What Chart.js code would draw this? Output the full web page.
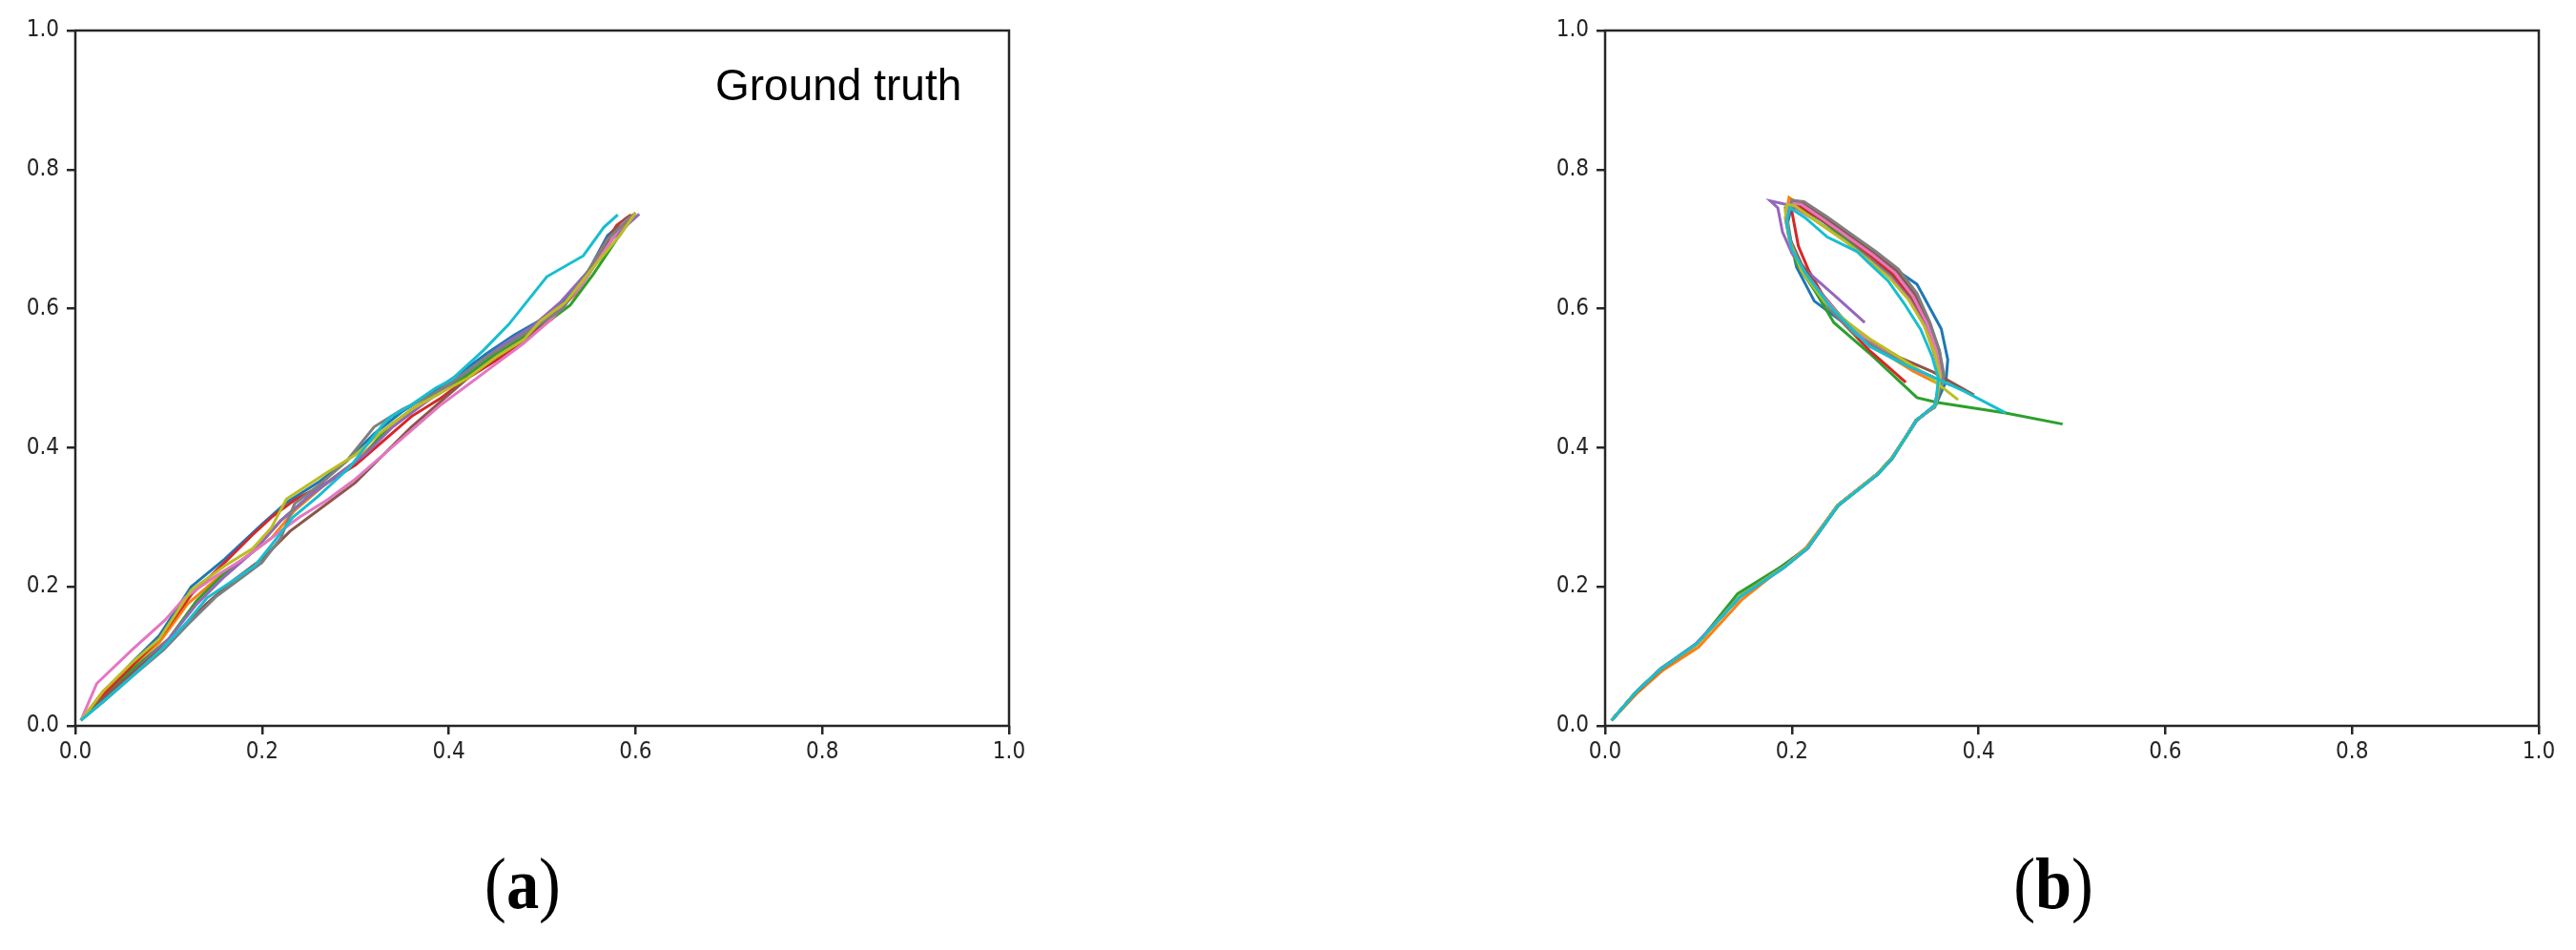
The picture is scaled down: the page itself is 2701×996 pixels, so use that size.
<!DOCTYPE html>
<html><head><meta charset="utf-8">
<script src="https://cdn.jsdelivr.net/npm/chart.js@4.4.1/dist/chart.umd.min.js"></script>
<style>
html,body{margin:0;padding:0;background:#fff;width:2701px;height:996px;overflow:hidden;}
.wrap{position:absolute;top:0;width:1100px;height:830px;}
#wa{left:0}
#wb{left:1604px}
.lbl{position:absolute;white-space:nowrap;line-height:1;color:#000;}
#gt{left:750px;top:66px;font-family:"Liberation Sans",Arial,sans-serif;font-size:46px;}
.cap{font-family:"Liberation Serif","Times New Roman",serif;font-size:76px;top:888px;transform:translateX(-50%) scaleX(0.9);}
.cap b{font-weight:bold}
</style></head>
<body>
<div class="wrap" id="wa"><canvas id="ca" width="1100" height="830"></canvas></div>
<div class="wrap" id="wb"><canvas id="cb" width="1100" height="830"></canvas></div>
<div class="lbl" id="gt">Ground truth</div>
<div class="lbl cap" style="left:548px">(<b>a</b>)</div>
<div class="lbl cap" style="left:2153px">(<b>b</b>)</div>
<script>
// ---- tick values / labels ----
const tickValues = [0, 0.2, 0.4, 0.6, 0.8, 1.0];
const tickLabels = ['0.0', '0.2', '0.4', '0.6', '0.8', '1.0'];
const seriesNames = ['blue','orange','green','red','purple','brown','pink','gray','olive','cyan'];
const seriesColors = ['#1f77b4','#ff7f0e','#2ca02c','#d62728','#9467bd','#8c564b','#e377c2','#7f7f7f','#bcbd22','#17becf'];

// ---- (a) Ground truth trajectories [x, y] ----
const gtBlue = [[0.006,0.008],[0.03,0.045],[0.06,0.09],[0.09,0.13],[0.124,0.2],[0.16,0.24],[0.2,0.29],[0.226,0.321],[0.26,0.35],[0.29,0.38],[0.32,0.42],[0.35,0.452],[0.38,0.478],[0.41,0.505],[0.44,0.535],[0.47,0.562],[0.5,0.585],[0.52,0.607],[0.55,0.655],[0.57,0.705],[0.59,0.728],[0.6,0.735]];
const gtOrange = [[0.006,0.008],[0.03,0.05],[0.06,0.085],[0.09,0.12],[0.12,0.175],[0.15,0.21],[0.18,0.24],[0.21,0.27],[0.235,0.31],[0.27,0.35],[0.3,0.38],[0.33,0.42],[0.36,0.455],[0.39,0.48],[0.42,0.505],[0.45,0.535],[0.48,0.56],[0.51,0.59],[0.535,0.62],[0.56,0.67],[0.58,0.71],[0.597,0.735]];
const gtGreen = [[0.006,0.008],[0.03,0.04],[0.06,0.08],[0.1,0.125],[0.13,0.18],[0.16,0.22],[0.19,0.25],[0.22,0.295],[0.25,0.33],[0.28,0.36],[0.31,0.39],[0.335,0.43],[0.36,0.455],[0.39,0.478],[0.42,0.505],[0.45,0.535],[0.48,0.56],[0.51,0.585],[0.53,0.605],[0.555,0.65],[0.58,0.7],[0.598,0.735]];
const gtRed = [[0.006,0.008],[0.03,0.045],[0.06,0.085],[0.09,0.125],[0.125,0.19],[0.16,0.235],[0.19,0.275],[0.21,0.3],[0.235,0.325],[0.27,0.35],[0.3,0.375],[0.33,0.41],[0.36,0.445],[0.39,0.47],[0.42,0.5],[0.45,0.525],[0.48,0.553],[0.51,0.585],[0.54,0.63],[0.565,0.69],[0.58,0.72],[0.595,0.735]];
const gtPurple = [[0.006,0.008],[0.03,0.04],[0.06,0.075],[0.1,0.125],[0.13,0.175],[0.16,0.215],[0.19,0.25],[0.22,0.295],[0.25,0.33],[0.28,0.36],[0.31,0.39],[0.34,0.43],[0.37,0.46],[0.4,0.49],[0.43,0.52],[0.46,0.55],[0.49,0.575],[0.52,0.61],[0.55,0.655],[0.575,0.7],[0.595,0.725],[0.604,0.736]];
const gtBrown = [[0.006,0.008],[0.03,0.04],[0.06,0.075],[0.1,0.12],[0.14,0.175],[0.17,0.21],[0.2,0.24],[0.23,0.28],[0.26,0.31],[0.3,0.35],[0.33,0.39],[0.36,0.43],[0.39,0.465],[0.42,0.5],[0.45,0.53],[0.48,0.555],[0.51,0.59],[0.54,0.63],[0.56,0.67],[0.575,0.71],[0.59,0.73],[0.598,0.735]];
const gtPink = [[0.006,0.008],[0.023,0.061],[0.062,0.111],[0.096,0.152],[0.117,0.184],[0.15,0.215],[0.18,0.24],[0.21,0.27],[0.24,0.3],[0.27,0.325],[0.3,0.355],[0.33,0.39],[0.36,0.425],[0.39,0.46],[0.42,0.49],[0.45,0.52],[0.48,0.55],[0.51,0.585],[0.54,0.63],[0.565,0.68],[0.585,0.72],[0.596,0.733]];
const gtGray = [[0.006,0.008],[0.03,0.035],[0.06,0.07],[0.095,0.11],[0.12,0.145],[0.15,0.185],[0.18,0.215],[0.2,0.235],[0.22,0.27],[0.235,0.32],[0.26,0.345],[0.29,0.38],[0.32,0.43],[0.35,0.455],[0.38,0.475],[0.41,0.5],[0.44,0.53],[0.47,0.555],[0.5,0.58],[0.522,0.6],[0.545,0.645],[0.57,0.7],[0.59,0.725],[0.6,0.738]];
const gtOlive = [[0.006,0.008],[0.03,0.05],[0.06,0.09],[0.09,0.125],[0.124,0.195],[0.16,0.23],[0.19,0.255],[0.21,0.285],[0.226,0.326],[0.267,0.362],[0.3,0.39],[0.33,0.425],[0.36,0.455],[0.39,0.478],[0.42,0.5],[0.45,0.53],[0.48,0.555],[0.498,0.582],[0.525,0.609],[0.555,0.66],[0.583,0.705],[0.6,0.738]];
const gtCyan = [[0.006,0.008],[0.03,0.035],[0.06,0.07],[0.093,0.111],[0.12,0.15],[0.141,0.184],[0.17,0.21],[0.192,0.23],[0.21,0.26],[0.233,0.3],[0.26,0.33],[0.294,0.372],[0.307,0.395],[0.328,0.431],[0.338,0.445],[0.359,0.461],[0.386,0.486],[0.403,0.498],[0.437,0.54],[0.464,0.577],[0.505,0.646],[0.544,0.676],[0.566,0.717],[0.581,0.735]];

// ---- (b) Predicted trajectories [x, y] ----
const prBlue = [[0.007,0.008],[0.034,0.05],[0.06,0.083],[0.098,0.118],[0.145,0.186],[0.19,0.23],[0.218,0.258],[0.25,0.318],[0.292,0.362],[0.308,0.385],[0.333,0.44],[0.353,0.458],[0.365,0.495],[0.367,0.527],[0.36,0.571],[0.334,0.635],[0.303,0.664],[0.27,0.695],[0.238,0.722],[0.21,0.745],[0.2,0.75],[0.195,0.72],[0.205,0.66],[0.224,0.611],[0.25,0.585],[0.275,0.56]];
const prOrange = [[0.007,0.008],[0.035,0.048],[0.062,0.08],[0.1,0.113],[0.147,0.182],[0.19,0.228],[0.215,0.256],[0.248,0.315],[0.29,0.36],[0.307,0.383],[0.333,0.438],[0.353,0.46],[0.36,0.502],[0.352,0.537],[0.342,0.575],[0.326,0.614],[0.306,0.645],[0.283,0.672],[0.26,0.7],[0.235,0.725],[0.21,0.748],[0.197,0.76],[0.193,0.73],[0.2,0.68],[0.215,0.645],[0.24,0.6],[0.265,0.57],[0.3,0.535],[0.33,0.51],[0.36,0.49]];
const prGreen = [[0.007,0.008],[0.034,0.05],[0.06,0.082],[0.1,0.12],[0.142,0.19],[0.19,0.23],[0.217,0.256],[0.25,0.317],[0.292,0.362],[0.307,0.384],[0.334,0.44],[0.354,0.462],[0.362,0.5],[0.358,0.54],[0.347,0.578],[0.328,0.618],[0.307,0.648],[0.283,0.672],[0.258,0.7],[0.232,0.727],[0.205,0.75],[0.193,0.745],[0.196,0.71],[0.205,0.665],[0.225,0.625],[0.245,0.58],[0.283,0.536],[0.319,0.491],[0.334,0.472],[0.356,0.465],[0.429,0.45],[0.49,0.434]];
const prRed = [[0.007,0.008],[0.034,0.049],[0.06,0.081],[0.098,0.117],[0.145,0.187],[0.192,0.229],[0.217,0.257],[0.249,0.317],[0.292,0.363],[0.307,0.385],[0.334,0.44],[0.354,0.461],[0.36,0.503],[0.354,0.538],[0.344,0.576],[0.327,0.615],[0.308,0.65],[0.285,0.675],[0.26,0.703],[0.232,0.728],[0.205,0.75],[0.2,0.74],[0.207,0.69],[0.218,0.655],[0.235,0.615],[0.258,0.575],[0.283,0.54],[0.3,0.52],[0.322,0.494]];
const prPurple = [[0.007,0.008],[0.034,0.05],[0.06,0.082],[0.097,0.118],[0.145,0.186],[0.19,0.226],[0.217,0.255],[0.249,0.316],[0.292,0.362],[0.307,0.385],[0.334,0.44],[0.353,0.461],[0.359,0.502],[0.353,0.537],[0.343,0.575],[0.326,0.614],[0.306,0.646],[0.283,0.671],[0.255,0.7],[0.225,0.727],[0.2,0.748],[0.177,0.755],[0.185,0.745],[0.19,0.71],[0.2,0.68],[0.215,0.655],[0.245,0.62],[0.278,0.58]];
const prBrown = [[0.007,0.008],[0.034,0.05],[0.06,0.082],[0.098,0.117],[0.145,0.187],[0.192,0.229],[0.217,0.257],[0.249,0.317],[0.292,0.363],[0.307,0.385],[0.334,0.44],[0.354,0.461],[0.362,0.505],[0.357,0.54],[0.347,0.58],[0.332,0.62],[0.312,0.655],[0.288,0.68],[0.262,0.705],[0.236,0.73],[0.212,0.752],[0.2,0.755],[0.194,0.735],[0.198,0.7],[0.21,0.665],[0.23,0.625],[0.255,0.585],[0.283,0.555],[0.315,0.53],[0.351,0.509],[0.395,0.476]];
const prPink = [[0.007,0.008],[0.034,0.05],[0.06,0.082],[0.098,0.117],[0.145,0.187],[0.19,0.226],[0.217,0.257],[0.249,0.317],[0.292,0.363],[0.307,0.385],[0.334,0.44],[0.354,0.461],[0.36,0.503],[0.355,0.54],[0.345,0.578],[0.33,0.617],[0.31,0.652],[0.287,0.677],[0.26,0.703],[0.234,0.728],[0.21,0.75],[0.198,0.752],[0.194,0.73],[0.199,0.69],[0.212,0.655],[0.232,0.62],[0.258,0.58],[0.285,0.55],[0.318,0.522],[0.35,0.5]];
const prGray = [[0.007,0.008],[0.034,0.05],[0.06,0.082],[0.098,0.117],[0.145,0.187],[0.192,0.229],[0.217,0.257],[0.249,0.317],[0.292,0.363],[0.307,0.385],[0.334,0.44],[0.354,0.461],[0.363,0.505],[0.358,0.54],[0.348,0.58],[0.334,0.622],[0.314,0.657],[0.29,0.682],[0.264,0.707],[0.238,0.732],[0.213,0.754],[0.2,0.756],[0.195,0.73],[0.2,0.69],[0.214,0.65],[0.24,0.6],[0.265,0.565],[0.295,0.54],[0.33,0.515],[0.37,0.49]];
const prOlive = [[0.007,0.008],[0.034,0.05],[0.06,0.082],[0.098,0.117],[0.145,0.187],[0.192,0.229],[0.217,0.257],[0.249,0.317],[0.292,0.363],[0.307,0.385],[0.334,0.44],[0.354,0.461],[0.359,0.502],[0.353,0.537],[0.342,0.575],[0.325,0.613],[0.305,0.644],[0.282,0.67],[0.256,0.698],[0.228,0.724],[0.203,0.748],[0.195,0.75],[0.193,0.74],[0.197,0.7],[0.21,0.655],[0.235,0.61],[0.26,0.58],[0.283,0.557],[0.315,0.53],[0.344,0.505],[0.378,0.469]];
const prCyan = [[0.007,0.008],[0.034,0.05],[0.06,0.082],[0.098,0.118],[0.145,0.186],[0.192,0.228],[0.217,0.256],[0.249,0.316],[0.292,0.362],[0.307,0.384],[0.334,0.44],[0.354,0.462],[0.357,0.5],[0.35,0.532],[0.338,0.57],[0.32,0.608],[0.303,0.64],[0.283,0.665],[0.27,0.682],[0.238,0.703],[0.215,0.73],[0.198,0.745],[0.194,0.725],[0.2,0.685],[0.215,0.65],[0.24,0.605],[0.265,0.57],[0.283,0.546],[0.32,0.52],[0.354,0.5],[0.385,0.481],[0.429,0.45]];

const gtSeries = [gtBlue, gtOrange, gtGreen, gtRed, gtPurple, gtBrown, gtPink, gtGray, gtOlive, gtCyan];
const prSeries = [prBlue, prOrange, prGreen, prRed, prPurple, prBrown, prPink, prGray, prOlive, prCyan];

const AX = '#262626';
const TICK_FONT = {family: '"DejaVu Sans Condensed", "DejaVu Sans", sans-serif', size: 24};

const framePlugin = {
  id: 'frame',
  afterDatasetsDraw(chart) {
    const {ctx, chartArea: a} = chart;
    ctx.save();
    ctx.strokeStyle = AX;
    ctx.lineWidth = 2.5;
    ctx.strokeRect(a.left, a.top, a.right - a.left, a.bottom - a.top);
    ctx.restore();
  }
};

function axisOpts(isX, yWidth) {
  return {
    type: 'linear', min: 0, max: 1,
    afterBuildTicks(s) { s.ticks = tickValues.map(v => ({value: v})); },
    afterFit(s) { if (isX) s.height = 69; else s.width = yWidth; },
    grid: {drawOnChartArea: false, drawTicks: true, tickLength: 9, color: AX, lineWidth: 2.5},
    border: {display: false},
    ticks: {
      font: TICK_FONT, color: AX, padding: isX ? 4 : 8,
      maxRotation: 0, autoSkip: false,
      callback: (v, i) => tickLabels[i]
    }
  };
}

function makeChart(id, series, yWidth) {
  const datasets = series.map((pts, i) => ({
    label: seriesNames[i],
    data: pts.map(p => ({x: p[0], y: p[1]})),
    borderColor: seriesColors[i],
    backgroundColor: seriesColors[i],
    borderWidth: 3,
    showLine: true,
    pointRadius: 0,
    tension: 0,
    fill: false,
    order: 10 - i
  }));
  return new Chart(document.getElementById(id), {
    type: 'scatter',
    data: {datasets},
    options: {
      responsive: false, animation: false, devicePixelRatio: 1,
      layout: {padding: {top: 32, right: 42, left: 0, bottom: 0}},
      plugins: {legend: {display: false}, tooltip: {enabled: false}},
      scales: {x: axisOpts(true, yWidth), y: axisOpts(false, yWidth)}
    },
    plugins: [framePlugin]
  });
}

makeChart('ca', gtSeries, 79);
makeChart('cb', prSeries, 79);
</script>
</body></html>
